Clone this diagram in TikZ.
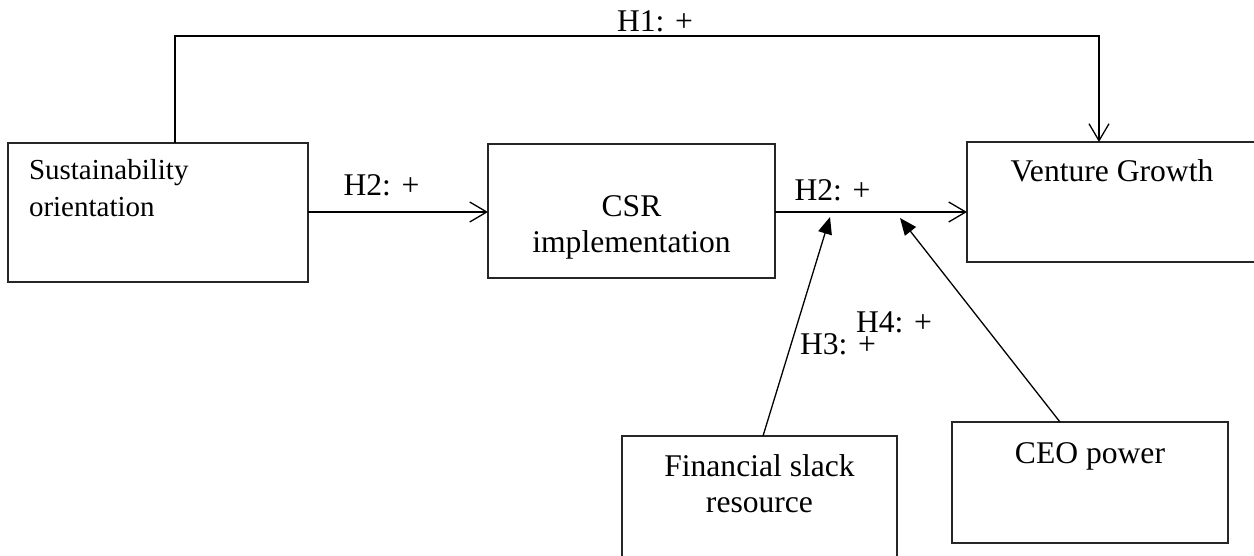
\documentclass[tikz,border=0pt]{standalone}
\usepackage{fontspec}
\setmainfont{Liberation Serif}
\usetikzlibrary{arrows.meta}
\begin{document}
\begin{tikzpicture}[x=1pt,y=-1pt,
  box/.style={draw=black!85,line width=1.5pt,rectangle,inner sep=0pt,outer sep=0pt},
  txt/.style={inner sep=0pt,outer sep=0pt,anchor=base,font=\fontsize{31.6}{36}\selectfont},
  lbl/.style={inner sep=0pt,outer sep=0pt,anchor=base,font=\fontsize{31.6}{36}\selectfont},
  conn/.style={line width=1.3pt,draw=black},
  openarrow/.style={conn,-{Straight Barb[length=17pt,width=20pt,line width=1.3pt]}},
  fillarrow/.style={conn,-{Triangle[length=17pt,width=14pt]}}]
\useasboundingbox (0,0) rectangle (1254,556);
% boxes
\node[box,minimum width=300pt,minimum height=139pt] (so) at (158,212.5) {};
\node[box,minimum width=287pt,minimum height=134pt] (csr) at (631.5,211) {};
\node[box,minimum width=291pt,minimum height=120pt] (vg) at (1112.5,202) {};
\node[box,minimum width=275pt,minimum height=130pt] (fs) at (759.5,501) {};
\node[box,minimum width=276pt,minimum height=121pt] (ceo) at (1090,482.5) {};
% box texts
\node[txt,anchor=base west,font=\fontsize{29}{37}\selectfont] (sot) at (29,180)
  {\begin{tabular}[t]{@{}l@{}}Sustainability\\orientation\end{tabular}};
\node[txt] (csrt) at (631.5,217)
  {\begin{tabular}[t]{@{}c@{}}CSR\\implementation\end{tabular}};
\node[txt] (vgt) at (1112,182) {Venture Growth};
\node[txt] (fst) at (759.5,476)
  {\begin{tabular}[t]{@{}c@{}}Financial slack\\resource\end{tabular}};
\node[txt] (ceot) at (1090,463) {CEO power};
% helper coordinates
\coordinate (h1a) at (175,36);
\coordinate (h1b) at (1099,36);
\coordinate (h2y) at (0,212);
\coordinate (s3) at (763,436);
\coordinate (t3) at (830,217);
\coordinate (s4) at (1060,422);
\coordinate (t4) at (900,218);
% connectors
\draw[openarrow] (so.north -| h1a) |- (h1b) -- (vg.north -| h1b);
\draw[openarrow] (so.east |- h2y) -- (csr.west |- h2y);
\draw[openarrow] (csr.east |- h2y) -- (vg.west |- h2y);
\draw[fillarrow] (fs.north -| s3) -- (t3);
\draw[fillarrow] (ceo.north -| s4) -- (t4);
% labels
\node[lbl] (l1) at (655,32) {H1: +};
\node[lbl] (l2) at (381.5,196) {H2: +};
\node[lbl] (l3) at (832.5,201) {H2: +};
\node[lbl] (l4) at (838,355) {H3: +};
\node[lbl] (l5) at (894,333) {H4: +};
\end{tikzpicture}
\end{document}
